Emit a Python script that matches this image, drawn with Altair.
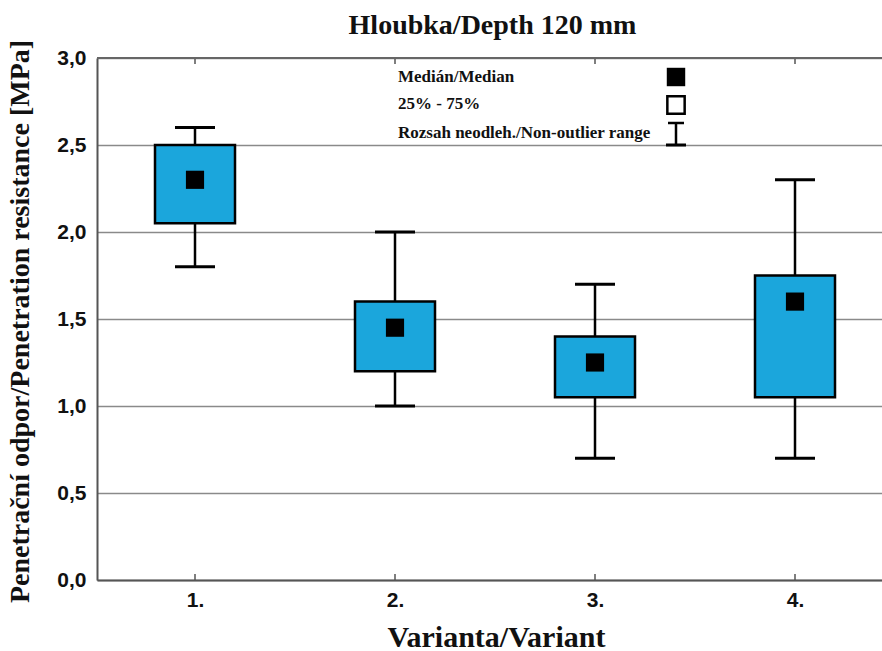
import altair as alt
import pandas as pd

# ---- data ----
variants = [1, 2, 3, 4]
whisker_low = [1.8, 1.0, 0.7, 0.7]
q1 = [2.05, 1.2, 1.05, 1.05]
median = [2.3, 1.45, 1.25, 1.6]
q3 = [2.5, 1.6, 1.4, 1.75]
whisker_high = [2.6, 2.0, 1.7, 2.3]

title_text = "Hloubka/Depth 120 mm"
x_title = "Varianta/Variant"
y_title = "Penetrační odpor/Penetration resistance [MPa]"
legend_labels = ["Medián/Median", "25% - 75%", "Rozsah neodleh./Non-outlier range"]

BOX_HALF = 0.2
CAP_HALF = 0.1

df = pd.DataFrame({
    "v": variants,
    "lo": whisker_low,
    "q1": q1,
    "med": median,
    "q3": q3,
    "hi": whisker_high,
})
df["bx1"] = df["v"] - BOX_HALF
df["bx2"] = df["v"] + BOX_HALF
df["cx1"] = df["v"] - CAP_HALF
df["cx2"] = df["v"] + CAP_HALF

W, H = 785, 522
SERIF = "Liberation Serif"
SANS = "Liberation Sans"

xscale = alt.Scale(domain=[0.51, 4.435], nice=False, zero=False)
yscale = alt.Scale(domain=[0, 3], nice=False, zero=True)

base = alt.Chart(df)

xaxis = alt.Axis(
    values=variants, labelExpr="datum.value + '.'", title=x_title,
    grid=False, ticks=False, domain=True, domainColor="#555", domainWidth=2,
    labelFont=SANS, labelFontWeight="bold", labelFontSize=21, labelColor="#111",
    labelPadding=9, titleFont=SERIF, titleFontWeight="bold", titleFontSize=30,
    titleColor="#111", titleX=399, titleY=57, titleAlign="center",
    titleBaseline="middle",
)
yaxis = alt.Axis(
    values=[0, 0.5, 1.0, 1.5, 2.0, 2.5, 3.0],
    labelExpr="replace(format(datum.value, '.1f'), '.', ',')",
    title=y_title, grid=True, gridColor="#8a8a8a", gridWidth=1.5,
    ticks=False, domain=True, domainColor="#555", domainWidth=2,
    labelFont=SANS, labelFontWeight="bold", labelFontSize=21, labelColor="#111",
    labelPadding=11, titleFont=SERIF, titleFontWeight="bold", titleFontSize=28,
    titleColor="#111", titleX=-77, titleY=H / 2 + 2, titleAngle=-90,
    titleAlign="center", titleBaseline="middle",
)

w_low = base.mark_rule(color="black", strokeWidth=2.5).encode(
    x=alt.X("v:Q", scale=xscale, axis=xaxis),
    y=alt.Y("lo:Q", scale=yscale, axis=yaxis),
    y2="q1:Q",
)
w_high = base.mark_rule(color="black", strokeWidth=2.5).encode(
    x="v:Q", y="q3:Q", y2="hi:Q"
)
cap_low = base.mark_rule(color="black", strokeWidth=3).encode(
    x="cx1:Q", x2="cx2:Q", y="lo:Q"
)
cap_high = base.mark_rule(color="black", strokeWidth=3).encode(
    x="cx1:Q", x2="cx2:Q", y="hi:Q"
)
box = base.mark_rect(fill="#1ba6dc", stroke="black", strokeWidth=2.5).encode(
    x="bx1:Q", x2="bx2:Q", y="q1:Q", y2="q3:Q"
)
med = base.mark_square(color="black", size=330, opacity=1).encode(
    x="v:Q", y="med:Q"
)

# small inner ticks at bottom and top frame lines
ticks_bottom = base.mark_rule(color="#555", strokeWidth=1.5).encode(
    x="v:Q", y=alt.value(H), y2=alt.value(H - 6)
)
ticks_top = base.mark_rule(color="#555", strokeWidth=1.5).encode(
    x="v:Q", y=alt.value(0), y2=alt.value(6)
)
top_line = alt.Chart(pd.DataFrame({"t": [3.0]})).mark_rule(
    color="#666", strokeWidth=2
).encode(y="t:Q", x=alt.value(0), x2=alt.value(W))

# legend (positioned inside the plot area, top right)
one = pd.DataFrame({"a": [0]})
leg_rows_y = [19, 46, 75]
leg_texts = [
    alt.Chart(one).mark_text(
        text=lab, align="left", baseline="middle", font=SERIF,
        fontWeight="bold", fontSize=17, color="#111",
    ).encode(x=alt.value(301), y=alt.value(yy))
    for lab, yy in zip(legend_labels, leg_rows_y)
]
leg_med = alt.Chart(one).mark_square(
    color="black", size=340, opacity=1
).encode(x=alt.value(579), y=alt.value(19))
leg_box = alt.Chart(one).mark_square(
    fill="white", stroke="black", strokeWidth=2.5, size=300, opacity=1
).encode(x=alt.value(579), y=alt.value(47))
leg_w = alt.Chart(one).mark_rule(
    color="black", strokeWidth=2.5
).encode(x=alt.value(579), y=alt.value(65), y2=alt.value(87))
leg_c1 = alt.Chart(one).mark_rule(
    color="black", strokeWidth=2.5
).encode(x=alt.value(571), x2=alt.value(587), y=alt.value(65))
leg_c2 = alt.Chart(one).mark_rule(
    color="black", strokeWidth=3
).encode(x=alt.value(569), x2=alt.value(589), y=alt.value(87))

chart = alt.layer(
    w_low, w_high, cap_low, cap_high, box, med,
    ticks_bottom, ticks_top, top_line,
    *leg_texts, leg_med, leg_box, leg_w, leg_c1, leg_c2,
).properties(
    width=W, height=H,
    title=alt.TitleParams(
        title_text, font=SERIF, fontWeight="bold", fontSize=28,
        color="#111", anchor="middle", offset=8, dx=3, dy=9,
    ),
    autosize=alt.AutoSizeParams(type="none"),
    padding={"left": 97, "top": 58, "right": 0, "bottom": 71},
).configure_view(stroke=None).configure(background="white")

chart.save("out.html", embed_options={"renderer": "svg", "actions": False})
